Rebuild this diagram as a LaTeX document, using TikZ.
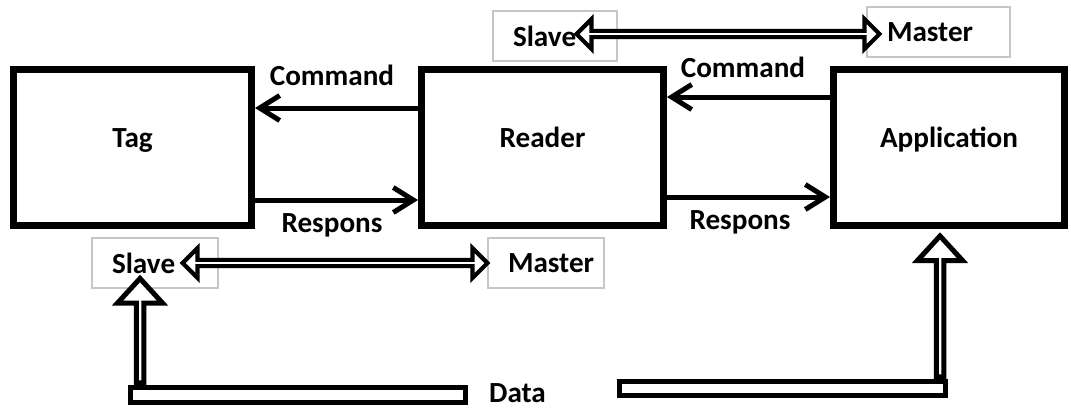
\documentclass[tikz,border=0pt]{standalone}
\usepackage{fontspec}
\setmainfont{Carlito}
\usetikzlibrary{shapes.arrows,arrows.meta,calc}

\newcommand{\blockarrow}[3][]{%
  \path let \p1=(#2), \p2=(#3), \n1={veclen(\x2-\x1,\y2-\y1)} in
    node[#1, minimum height=\n1] at ($(#2)!0.5!(#3)$) {};}

\begin{document}
\begin{tikzpicture}[font=\bfseries\fontsize{16.6}{19}\selectfont,
  unit/.style={draw, line width=0.14cm, minimum height=3.12cm, text height=0.4cm, text depth=0.4cm},
  role/.style={draw=gray!45, line width=0.6pt, inner xsep=0.4cm, align=left, minimum height=1cm},
  flow/.style={line width=0.1cm, -{Straight Barb[length=0.4cm,width=0.5cm]}},
  duplex/.style={double arrow, draw, fill=white, line width=2.4pt, inner sep=0pt, minimum width=0.6cm,
    double arrow head extend=0.16cm, double arrow tip angle=90},
  uplink/.style={single arrow, draw, fill=white, line width=0.1cm, inner sep=0pt, minimum width=0.9cm,
    single arrow head extend=0.25cm, single arrow tip angle=85, rotate=90},
  bar/.style={draw, line width=0.1cm, inner sep=0pt}]
\useasboundingbox (0,0) rectangle (21.42,-8.16);

\node[unit, minimum width=4.76cm] (tag) at (2.65,-2.95) {Tag};
\node[unit, minimum width=4.84cm] (reader) at (10.85,-2.95) {Reader};
\node[unit, minimum width=4.62cm] (app) at (18.98,-2.95) {Application};

\draw[flow] ([yshift=0.79cm]reader.west) -- ([yshift=0.79cm]tag.east);
\draw[flow] ([yshift=-1.05cm]tag.east) -- ([yshift=-1.05cm]reader.west);
\draw[flow] ([yshift=1.01cm]app.west) -- ([yshift=1.01cm]reader.east);
\draw[flow] ([yshift=-0.99cm]reader.east) -- ([yshift=-0.99cm]app.west);
\node[anchor=base] (cmdL) at (6.64,-1.70) {Command};
\node[anchor=base] (respL) at (6.64,-4.64) {Respons};
\node[anchor=base] (cmdR) at (14.86,-1.54) {Command};
\node[anchor=base] (respR) at (14.8,-4.58) {Respons};

\node[role, text width=1.68cm] (slaveA) at (11.10,-0.72) {Slave};
\node[role, text width=2.06cm] (masterA) at (18.77,-0.64) {Master};
\node[role, text width=1.72cm] (slaveB) at (3.10,-5.26) {Slave};
\node[role, text width=1.52cm] (masterB) at (10.92,-5.26) {Master};
\coordinate (sa) at ([xshift=-0.82cm]slaveA.east);
\coordinate (ma) at ([xshift=0.26cm]masterA.west);
\blockarrow[duplex]{sa}{ma}
\coordinate (sb) at ([xshift=-0.72cm]slaveB.east);
\coordinate (mb) at (masterB.west);
\blockarrow[duplex]{sb}{mb}

\node[bar, minimum width=6.7cm, minimum height=0.3cm] (dataL) at (5.96,-7.90) {};
\node[bar, minimum width=6.52cm, minimum height=0.28cm] (dataR) at (15.65,-7.77) {};
\node[anchor=base] (data) at (10.35,-8.04) {Data};
\coordinate (ul) at ([xshift=0.24cm]dataL.north west);
\coordinate (ut) at ($(ul |- slaveB.south)+(0,0.16)$);
\blockarrow[uplink]{ul}{ut}
\coordinate (ur) at ([xshift=-0.16cm]dataR.north east);
\coordinate (urt) at ($(ur |- app.south)+(0,-0.18)$);
\blockarrow[uplink]{ur}{urt}
\end{tikzpicture}
\end{document}
